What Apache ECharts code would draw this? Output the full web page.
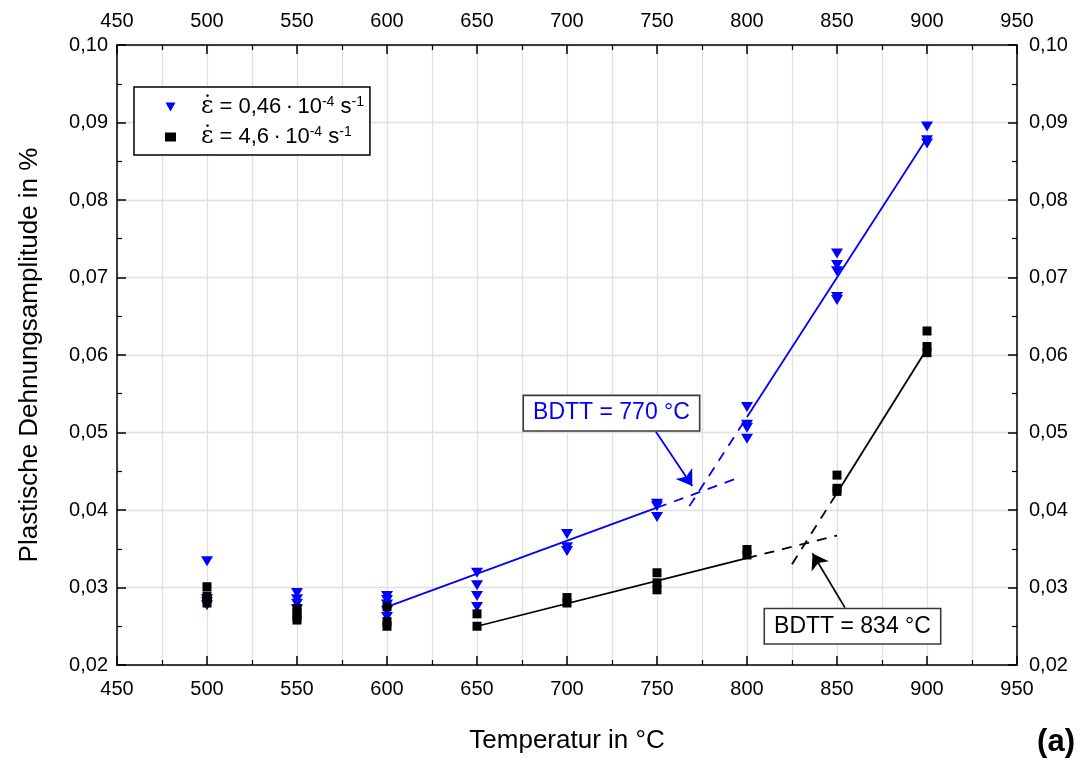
<!DOCTYPE html>
<html>
<head>
<meta charset="utf-8">
<script src="https://cdn.jsdelivr.net/npm/echarts@6/dist/echarts.min.js"></script>
<style>
  html, body { margin: 0; padding: 0; background: #fff; }
  #chart { width: 1081px; height: 762px; }
</style>
</head>
<body>
<div id="chart"></div>
<script>
// Plastic strain amplitude vs. temperature for two strain rates
var temperatures = [500, 550, 600, 650, 700, 750, 800, 850, 900];

// slow strain rate (0.46e-4 1/s), several specimens per temperature
var slowRate = [
  [0.0334, 0.0285, 0.0281, 0.0277],
  [0.0293, 0.0285, 0.0279, 0.0272],
  [0.0289, 0.0284, 0.0278, 0.0270, 0.0262],
  [0.0319, 0.0303, 0.0289, 0.0275],
  [0.0369, 0.0352, 0.0347],
  [0.0408, 0.0405, 0.0391],
  [0.0533, 0.0510, 0.0506, 0.0492],
  [0.0731, 0.0716, 0.0708, 0.0675, 0.0671],
  [0.0895, 0.0877, 0.0873]
];

// fast strain rate (4.6e-4 1/s)
var fastRate = [
  [0.0301, 0.0289, 0.0285, 0.0280],
  [0.0273, 0.0268, 0.0262, 0.0258],
  [0.0275, 0.0256, 0.0250],
  [0.0266, 0.0250],
  [0.0287, 0.0280],
  [0.0319, 0.0306, 0.0297],
  [0.0349, 0.0342],
  [0.0445, 0.0428, 0.0424],
  [0.0631, 0.0611, 0.0603]
];

// linear fits: solid over fitted range, dashed extrapolation to the intersection
var slowLowFit   = [[600, 0.0275], [750, 0.0403]];
var slowLowExt   = [[750, 0.0403], [797, 0.0443]];
var slowHighFit  = [[800, 0.0520], [900, 0.0880]];
var slowHighExt  = [[768, 0.0405], [800, 0.0520]];
var fastLowFit   = [[650, 0.0250], [800, 0.0338]];
var fastLowExt   = [[800, 0.0338], [850, 0.0367]];
var fastHighFit  = [[850, 0.0422], [900, 0.0608]];
var fastHighExt  = [[825, 0.0330], [850, 0.0422]];

// BDTT annotations: label anchor and arrow (data coordinates)
var bdttSlowText = 'BDTT = 770 °C';
var bdttFastText = 'BDTT = 834 °C';
var bdttSlowLabel = [724.7, 0.0525];
var bdttSlowArrow = [[749.4, 0.0501], [769.6, 0.0431]];
var bdttFastLabel = [858.6, 0.0250];
var bdttFastArrow = [[854.4, 0.0274], [836.4, 0.0344]];

var xTicks = { min: 450, max: 950, interval: 50 };
var yTicks = { min: 0.02, max: 0.10, interval: 0.01 };

var seriesNames = ['slow', 'fast'];
var legendText = {
  slow: '{e|ε̇} = 0,46\u2009·\u200910{s|-4} s{s|-1}',
  fast: '{e|ε̇} = 4,6\u2009·\u200910{s|-4} s{s|-1}'
};

function points(values) {
  var out = [];
  values.forEach(function (col, i) {
    col.forEach(function (v) { out.push([temperatures[i], v]); });
  });
  return out;
}

var BLUE = '#0000ff';
var BLACK = '#000000';
var FONT = "'Liberation Sans', Arial, sans-serif";
var GRID = '#e0e0e0';

function fitLine(data, color, dashed) {
  return {
    type: 'line', data: data, showSymbol: false, symbol: 'none', silent: true,
    xAxisIndex: 0, yAxisIndex: 0, z: 3,
    lineStyle: { color: color, width: 1.8, type: dashed ? [10, 8] : 'solid' }
  };
}

function xAxisCfg(pos) {
  var bottom = pos === 'bottom';
  return {
    type: 'value', position: pos, min: xTicks.min, max: xTicks.max, interval: xTicks.interval,
    name: bottom ? 'Temperatur in °C' : '', nameLocation: 'middle', nameGap: 63,
    nameTextStyle: { fontSize: 26, fontFamily: FONT, color: '#000' },
    axisLine: { show: true, onZero: false, lineStyle: { color: '#000', width: 1.5 } },
    axisTick: { show: true, inside: true, length: 9, lineStyle: { color: '#000', width: 1.5 } },
    minorTick: { show: true, splitNumber: 2, length: 5, lineStyle: { color: '#000', width: 1.2 } },
    splitLine: { show: bottom, lineStyle: { color: GRID, width: 1.3 } },
    minorSplitLine: { show: bottom, lineStyle: { color: GRID, width: 1.3 } },
    axisLabel: { fontSize: 20, fontFamily: FONT, color: '#000', margin: 14 }
  };
}

function yAxisCfg(pos) {
  var left = pos === 'left';
  return {
    type: 'value', position: pos, min: yTicks.min, max: yTicks.max, interval: yTicks.interval,
    name: left ? 'Plastische Dehnungsamplitude in %' : '', nameLocation: 'middle', nameGap: 74,
    nameTextStyle: { fontSize: 26, fontFamily: FONT, color: '#000' },
    axisLine: { show: true, onZero: false, lineStyle: { color: '#000', width: 1.5 } },
    axisTick: { show: true, inside: true, length: 9, lineStyle: { color: '#000', width: 1.5 } },
    minorTick: { show: true, splitNumber: 2, length: 5, lineStyle: { color: '#000', width: 1.2 } },
    splitLine: { show: left, lineStyle: { color: GRID, width: 1.3 } },
    axisLabel: {
      fontSize: 20, fontFamily: FONT, color: '#000', margin: left ? 9 : 12,
      formatter: function (v) { return v.toFixed(2).replace('.', ','); }
    }
  };
}

function bdttMark(text, pos, color) {
  return {
    symbol: 'rect', symbolSize: 0, silent: true,
    data: [{ coord: pos }],
    label: {
      show: true, position: 'inside', formatter: text,
      fontSize: 23, fontFamily: FONT, color: color,
      backgroundColor: '#fff', borderColor: '#3a3a3a', borderWidth: 1.6,
      padding: [6, 9, 5, 9]
    }
  };
}

function arrowMark(seg, color) {
  return {
    silent: true, symbol: ['none', 'arrow'], symbolSize: 15,
    label: { show: false },
    lineStyle: { color: color, width: 1.8, type: 'solid' },
    itemStyle: { color: color },
    data: [[{ coord: seg[0] }, { coord: seg[1] }]]
  };
}

var chart = echarts.init(document.getElementById('chart'), null, { renderer: 'canvas' });

chart.setOption({
  animation: false,
  backgroundColor: '#fff',
  grid: { left: 117, right: 64, top: 45, bottom: 97, containLabel: false },
  xAxis: [xAxisCfg('bottom'), xAxisCfg('top')],
  yAxis: [yAxisCfg('left'), yAxisCfg('right')],
  legend: {
    left: 134, top: 87, orient: 'vertical',
    data: [
      { name: seriesNames[0], icon: 'path://M0,0L10,0L5,9Z' },
      { name: seriesNames[1], icon: 'rect' }
    ],
    itemWidth: 11, itemHeight: 9, itemGap: 6,
    padding: [8, 6, 6, 31],
    borderColor: '#000', borderWidth: 1.5, backgroundColor: '#fff',
    formatter: function (n) { return legendText[n]; },
    textStyle: {
      fontSize: 22, fontFamily: FONT, color: '#000', padding: [0, 0, 0, 20],
      rich: {
        e: { fontSize: 24, fontFamily: "'DejaVu Serif', 'Liberation Serif', serif", color: '#000' },
        s: { fontSize: 14, fontFamily: FONT, color: '#000', verticalAlign: 'top', lineHeight: 14 }
      }
    }
  },
  series: [
    {
      name: seriesNames[0], type: 'scatter', data: points(slowRate),
      symbol: 'triangle', symbolRotate: 180, symbolSize: [12, 10], z: 4,
      itemStyle: { color: BLUE, opacity: 1 }
    },
    {
      name: seriesNames[1], type: 'scatter', data: points(fastRate),
      symbol: 'rect', symbolSize: 9, z: 4,
      itemStyle: { color: BLACK, opacity: 1 }
    },
    fitLine(slowLowFit, BLUE, false),
    fitLine(slowLowExt, BLUE, true),
    fitLine(slowHighFit, BLUE, false),
    Object.assign(fitLine(slowHighExt, BLUE, true), {
      markLine: arrowMark(bdttSlowArrow, BLUE),
      markPoint: bdttMark(bdttSlowText, bdttSlowLabel, BLUE)
    }),
    fitLine(fastLowFit, BLACK, false),
    fitLine(fastLowExt, BLACK, true),
    fitLine(fastHighFit, BLACK, false),
    Object.assign(fitLine(fastHighExt, BLACK, true), {
      markLine: arrowMark(bdttFastArrow, BLACK),
      markPoint: bdttMark(bdttFastText, bdttFastLabel, BLACK)
    })
  ],
  graphic: [{
    type: 'text', right: 6, top: 727,
    style: { text: '(a)', fontSize: 31, fontWeight: 'bold', fontFamily: FONT, fill: '#000' }
  }]
});
</script>
</body>
</html>
